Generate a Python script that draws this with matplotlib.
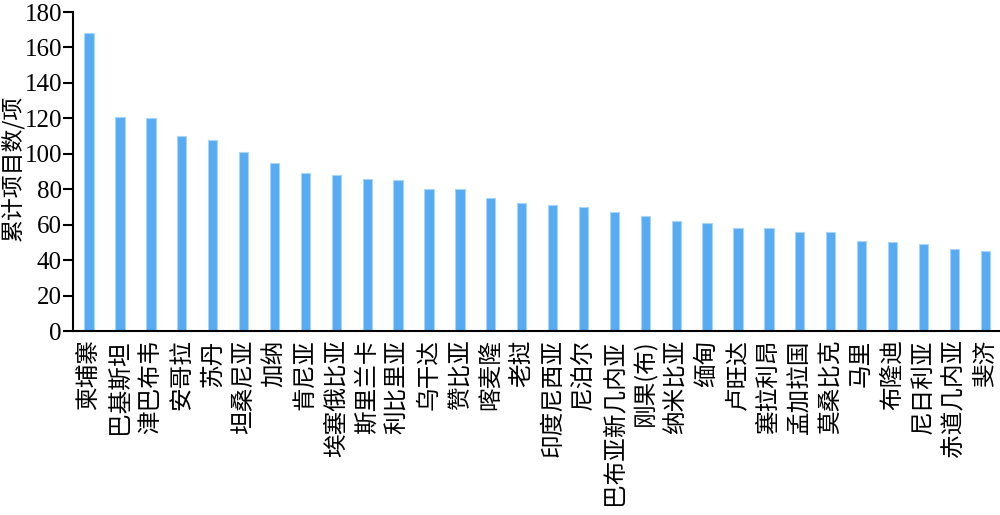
import matplotlib
matplotlib.use("Agg")
import matplotlib.pyplot as plt
import numpy as np

countries = ["柬埔寨", "巴基斯坦", "津巴布韦", "安哥拉", "苏丹", "坦桑尼亚", "加纳", "肯尼亚",
             "埃塞俄比亚", "斯里兰卡", "利比里亚", "乌干达", "赞比亚", "喀麦隆", "老挝",
             "印度尼西亚", "尼泊尔", "巴布亚新几内亚", "刚果(布)", "纳米比亚", "缅甸", "卢旺达",
             "塞拉利昂", "孟加拉国", "莫桑比克", "马里", "布隆迪", "尼日利亚", "赤道几内亚", "斐济"]
projects = [168, 121, 120, 110, 108, 101, 95, 89, 88, 86, 85, 80, 80, 75, 72,
            71, 70, 67, 65, 62, 61, 58, 58, 56, 56, 51, 50, 49, 46, 45]
yticks = [0, 20, 40, 60, 80, 100, 120, 140, 160, 180]
ylabel = "累计项目数/项"

fig = plt.figure(figsize=(10, 5.15), dpi=100)
ax = fig.add_axes([0.073, 1 - 331 / 515, 1.0 - 0.073, (331 - 12) / 515])

x = np.arange(len(countries))
ax.bar(x, projects, width=0.3, color="#56abf2", edgecolor="#a9d5fb", linewidth=0.8, zorder=2)

ax.set_xlim(-0.52, len(countries) - 0.52)
ax.set_ylim(0, 180)
ax.set_yticks(yticks)
ax.set_yticklabels([str(v) for v in yticks], family=["Liberation Serif"], fontsize=18)
ax.set_xticks(x)
ax.set_xticklabels(countries, rotation=90, family=["Noto Sans CJK SC", "DejaVu Sans"], fontsize=17)
ax.tick_params(axis="x", length=0, pad=6)
ax.tick_params(axis="y", length=7, width=1.5, direction="out", pad=1)

for s in ["top", "right"]:
    ax.spines[s].set_visible(False)
for s in ["left", "bottom"]:
    ax.spines[s].set_linewidth(1.5)
    ax.spines[s].set_color("black")

fig.text(0.0125, 1 - 168 / 515, ylabel, rotation=90, ha="center", va="center",
         family=["Noto Sans CJK SC", "DejaVu Sans"], fontsize=16.5)

fig.savefig("out.png", dpi=100)
